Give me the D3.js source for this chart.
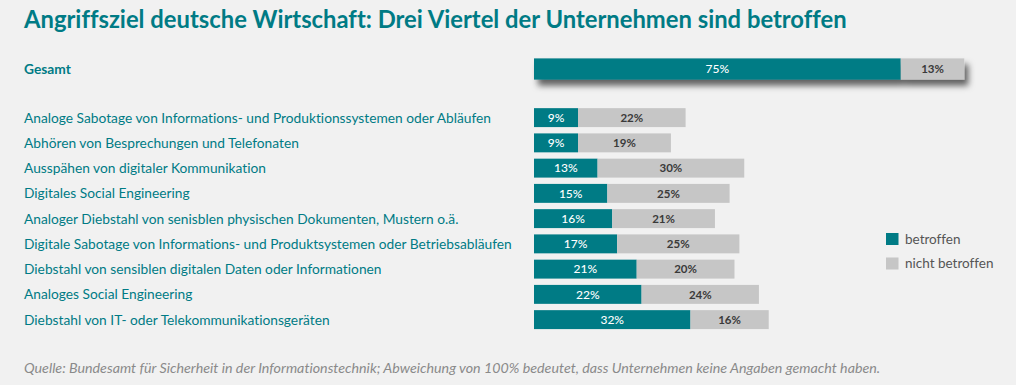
<!DOCTYPE html>
<html><head><meta charset="utf-8">
<script src="https://cdn.jsdelivr.net/npm/d3@7"></script>
<style>
html,body{margin:0;padding:0;background:#f1f1f1;}
svg{display:block;}
text{font-variant-ligatures:none;font-feature-settings:"liga" 0,"dlig" 0;}
</style></head>
<body>
<script>
const title = "Angriffsziel deutsche Wirtschaft: Drei Viertel der Unternehmen sind betroffen";
const totalCategory = ["Gesamt"];
const totalBetroffen = [75];
const totalNicht = [13];
const categories = [
  "Analoge Sabotage von Informations- und Produktionssystemen oder Abläufen",
  "Abhören von Besprechungen und Telefonaten",
  "Ausspähen von digitaler Kommunikation",
  "Digitales Social Engineering",
  "Analoger Diebstahl von senisblen physischen Dokumenten, Mustern o.ä.",
  "Digitale Sabotage von Informations- und Produktsystemen oder Betriebsabläufen",
  "Diebstahl von sensiblen digitalen Daten oder Informationen",
  "Analoges Social Engineering",
  "Diebstahl von IT- oder Telekommunikationsgeräten"
];
const betroffen = [9, 9, 13, 15, 16, 17, 21, 22, 32];
const nichtBetroffen = [22, 19, 30, 25, 21, 25, 20, 24, 16];
const legendLabels = ["betroffen", "nicht betroffen"];
const source = "Quelle: Bundesamt für Sicherheit in der Informationstechnik; Abweichung von 100% bedeutet, dass Unternehmen keine Angaben gemacht haben.";

const W = 1016, H = 385;
const TEAL = "#007b85", GRAY = "#c6c6c6", FONT = "Lato, 'Open Sans', sans-serif";

const svg = d3.select("body").append("svg").attr("width", W).attr("height", H);
svg.append("rect").attr("width", W).attr("height", H).attr("fill", "#f1f1f1");

const defs = svg.append("defs");
const f = defs.append("filter").attr("id", "shadow").attr("x", "-5%").attr("y", "-50%").attr("width", "115%").attr("height", "250%");
f.append("feDropShadow").attr("dx", 4).attr("dy", 6).attr("stdDeviation", 3)
  .attr("flood-color", "#000").attr("flood-opacity", 0.6);

const x = d3.scaleLinear().domain([0, 100]).range([534, 1023]);
const y = d3.scaleBand().domain(categories).range([105, 105 + 9 * 25.25]).paddingInner(0.25).paddingOuter(0.125);
const yTot = d3.scaleBand().domain(totalCategory).range([55, 83]).paddingInner(0).paddingOuter(0.16);

// Title
svg.append("text").attr("x", 24).attr("y", 28).attr("fill", TEAL)
  .attr("font-family", FONT).attr("font-weight", 700).attr("font-size", 23.8).text(title);

function drawRows(g, cats, ys, b, n, teal, labelFontW) {
  const rows = g.selectAll("g.row").data(cats.map((c, i) => ({c, b: b[i], n: n[i]})))
    .join("g").attr("class", "row");
  rows.append("text").attr("x", 24).attr("y", d => ys(d.c) + ys.bandwidth() / 2 + 5)
    .attr("fill", TEAL).attr("font-family", FONT).attr("font-size", 13.75)
    .attr("font-weight", labelFontW).text(d => d.c);
  const bars = rows.append("g");
  bars.append("rect").attr("x", x(0)).attr("y", d => ys(d.c))
    .attr("width", d => x(d.b) - x(0)).attr("height", ys.bandwidth()).attr("fill", teal);
  bars.append("rect").attr("x", d => x(d.b)).attr("y", d => ys(d.c))
    .attr("width", d => x(d.b + d.n) - x(d.b)).attr("height", ys.bandwidth()).attr("fill", GRAY);
  rows.append("text").attr("x", d => (x(0) + x(d.b)) / 2).attr("y", d => ys(d.c) + ys.bandwidth() / 2 + 4.2)
    .attr("text-anchor", "middle").attr("fill", "#fff").attr("font-family", FONT)
    .attr("font-size", 12).attr("font-weight", 500).text(d => d.b + "%");
  rows.append("text").attr("x", d => (x(d.b) + x(d.b + d.n)) / 2).attr("y", d => ys(d.c) + ys.bandwidth() / 2 + 4.2)
    .attr("text-anchor", "middle").attr("fill", "#3a3a3a").attr("font-family", FONT)
    .attr("font-size", 11.5).attr("font-weight", 700).text(d => d.n + "%");
  return bars;
}

const gTot = svg.append("g");
const totBars = drawRows(gTot, totalCategory, yTot, totalBetroffen, totalNicht, TEAL, 700);
totBars.attr("filter", "url(#shadow)");
gTot.selectAll("g.row").each(function() { d3.select(this).selectAll("text").raise(); });

const gRows = svg.append("g");
drawRows(gRows, categories, y, betroffen, nichtBetroffen, TEAL, 400);

// Legend
const lg = svg.append("g");
const lcol = [TEAL, GRAY];
legendLabels.forEach((t, i) => {
  lg.append("rect").attr("x", 886).attr("y", 233 + i * 24.5).attr("width", 12.5).attr("height", 12).attr("fill", lcol[i]);
  lg.append("text").attr("x", 905).attr("y", 243.5 + i * 24.5).attr("fill", "#555")
    .attr("font-family", FONT).attr("font-size", 13.5).text(t);
});

// Source
svg.append("text").attr("x", 24).attr("y", 373).attr("fill", "#8a8a8a")
  .attr("font-family", FONT).attr("font-style", "italic").attr("font-size", 14.25).text(source);
</script>
</body></html>
